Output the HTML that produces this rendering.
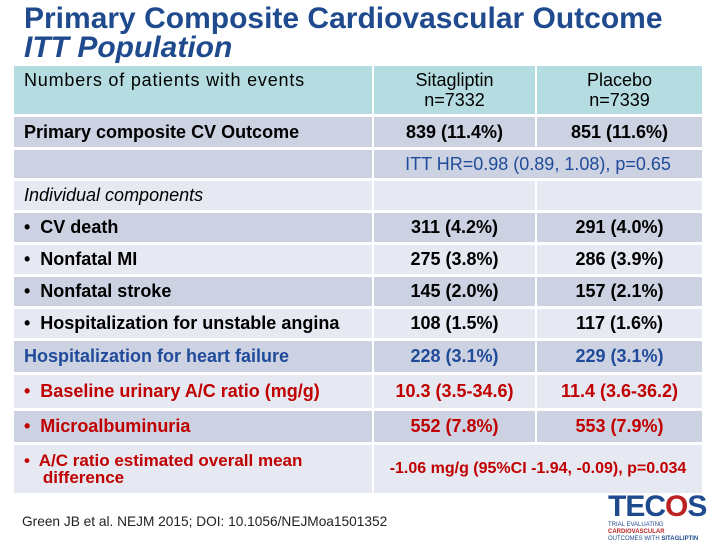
<!DOCTYPE html>
<html><head><meta charset="utf-8"><style>
body{margin:0;width:720px;height:540px;background:#fff;position:relative;overflow:hidden;font-family:"Liberation Sans",sans-serif}
.t{position:absolute;left:24px;color:#1f4b8e;font-weight:bold;font-size:30px;line-height:30px}
.c{position:absolute;box-sizing:border-box;display:flex;align-items:center;font-size:18px;color:#000}
.m{justify-content:center;text-align:center}
.d{background:#cdd2e2}.l{background:#e6e8f2}.h{background:#b5dde1}
.b{font-weight:bold}.r{color:#c00000;font-weight:bold}.bl{color:#1f4b9a;font-weight:bold}
</style></head><body>
<div class="t" style="top:4px">Primary Composite Cardiovascular Outcome</div>
<div class="t" style="top:33px;font-style:italic">ITT Population</div>
<div id="tb"></div>
<div style="position:absolute;left:22px;top:514px;font-size:13.7px;color:#222">Green JB et al. NEJM 2015; DOI: 10.1056/NEJMoa1501352</div>
<div style="position:absolute;left:608px;top:492px;width:108px;height:46px">
<div style="font-size:30px;font-weight:bold;color:#1f4b8e;line-height:30px;letter-spacing:-1px">TEC<span style="color:#b22">O</span>S</div>
<div style="font-size:6px;line-height:7px;color:#1f4b8e">TRIAL EVALUATING <b style="color:#b22">CARDIOVASCULAR</b><br>OUTCOMES WITH <b>SITAGLIPTIN</b></div></div>
<script>
const rows=[
[66,114,'h','','Numbers of patients with events','Sitagliptin<br>n=7332','Placebo<br>n=7339'],
[117,147,'d','b','Primary composite CV Outcome','839 (11.4%)','851 (11.6%)'],
[150,178,'d','','','ITT HR=0.98 (0.89, 1.08), p=0.65',null],
[181,210,'l','','<i>Individual components</i>','',''],
[213,242,'d','b','•&nbsp; CV death','311 (4.2%)','291 (4.0%)'],
[245,274,'l','b','•&nbsp; Nonfatal MI','275 (3.8%)','286 (3.9%)'],
[277,306,'d','b','•&nbsp; Nonfatal stroke','145 (2.0%)','157 (2.1%)'],
[309,338,'l','b','•&nbsp; Hospitalization for unstable angina','108 (1.5%)','117 (1.6%)'],
[341,372,'d','bl','Hospitalization for heart failure','228 (3.1%)','229 (3.1%)'],
[375,408,'l','r','•&nbsp; Baseline urinary A/C ratio (mg/g)','10.3 (3.5-34.6)','11.4 (3.6-36.2)'],
[411,442,'d','r','•&nbsp; Microalbuminuria','552 (7.8%)','553 (7.9%)'],
[445,493,'l','r','•&nbsp; A/C ratio estimated overall mean<br>&nbsp;&nbsp;&nbsp; difference','-1.06 mg/g (95%CI -1.94, -0.09), p=0.034',null]];
const tb=document.getElementById('tb');
function cell(x,y,w,h,cls,html,name){const e=document.createElement('div');e.className='c '+cls;e.style.cssText=`left:${x}px;top:${y}px;width:${w}px;height:${h}px`;e.innerHTML=html;


tb.appendChild(e);return e;}
rows.forEach((r,i)=>{const [y0,y1,bg,tc,a,b,c]=r;const h=y1-y0;
let txt=(tc==='r'||tc==='bl')?tc:(tc==='b'?'b':'');
if(i===2)txt='bl';
const first=cell(14,y0,358,h,bg,a,'row-label-'+i);first.style.padding='0 10px';
if(i===0){first.style.alignItems='flex-start';first.style.paddingTop='4px';first.style.letterSpacing='0.8px';}
if(i===11){first.style.lineHeight='17px';first.style.fontSize='17px';}
first.className+=' '+(i===2?'':txt);
if(c===null){const e=cell(374,y0,328,h,bg+' m '+txt,b,'row-span-'+i);if(i===11)e.style.fontSize='16px';if(i===2)e.style.fontWeight='normal';}
else{const e1=cell(374,y0,161,h,bg+' m '+txt,b,'sitagliptin-'+i);const e2=cell(537,y0,165,h,bg+' m '+txt,c,'placebo-'+i);
if(i===0){e1.style.lineHeight=e2.style.lineHeight='20px';}}
});
</script>
</body></html>
